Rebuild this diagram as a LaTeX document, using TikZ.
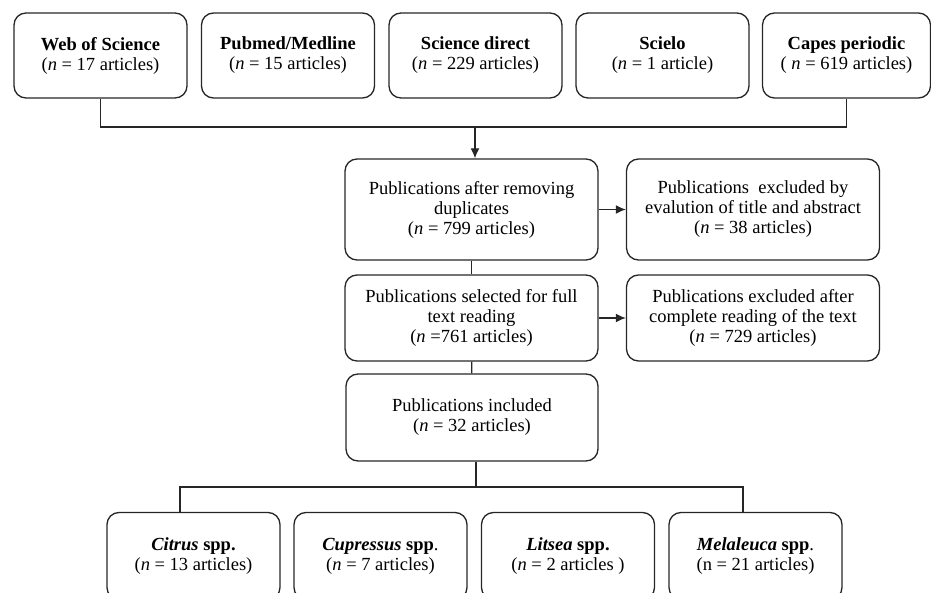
\documentclass[tikz,border=0pt]{standalone}
\usepackage{fontspec}
\setmainfont{Liberation Serif}
\usetikzlibrary{arrows.meta}

\begin{document}
\begin{tikzpicture}[x=1pt,y=-1pt,
    box/.style={draw=black!85, line width=1.3pt, rounded corners=12pt, align=center,
      inner sep=0pt, font=\fontsize{18.5}{20}\selectfont},
    src/.style={box, minimum width=173pt, minimum height=85pt},
    pub/.style={box, minimum width=253pt},
    sp/.style={box, minimum width=173pt, minimum height=87pt},
    link/.style={draw=black!85, line width=1.3pt},
    arr/.style={link, -{Latex[length=10pt,width=9pt]}}]
  \useasboundingbox (0,0) rectangle (931,593);
  \clip (0,0) rectangle (931,593);

  \draw (100.5,55.5) node[src] (wos) {\textbf{Web of Science}\\(\textit{n} = 17 articles)};
  \draw (288,55.5) node[src] (pubmed) {\textbf{Pubmed/Medline}\\(\textit{n} = 15 articles)};
  \draw (475.5,55.5) node[src] (sd) {\textbf{Science direct}\\(\textit{n} = 229 articles)};
  \draw (662.5,55.5) node[src] (scielo) {\textbf{Scielo}\\(\textit{n} = 1 article)};
  \draw (846.5,55.5) node[src, minimum width=168pt] (capes) {\textbf{Capes periodic}\\( \textit{n} = 619 articles)};

  \draw (471.5,209.5) node[pub, minimum height=101pt] (dup) {Publications after removing\\duplicates\\(\textit{n} = 799 articles)};
  \draw (753,209.5) node[pub, minimum height=101pt] (excl1) {Publications~ excluded by\\evalution of title and abstract\\(\textit{n} = 38 articles)};
  \draw (471.5,318) node[pub, minimum height=86pt] (sel) {Publications selected for full\\text reading\\(\textit{n} =761 articles)};
  \draw (753,318) node[pub, minimum height=86pt] (excl2) {Publications excluded after\\complete reading of the text\\(\textit{n} = 729 articles)};
  \draw (472,417.5) node[pub, minimum width=252pt, minimum height=87pt] (incl) {Publications included\\(\textit{n} = 32 articles)};

  \draw (193.5,556) node[sp] (citrus) {\textbf{\textit{Citrus} spp.}\\(\textit{n} = 13 articles)};
  \draw (380.5,556) node[sp] (cupressus) {\textbf{\textit{Cupressus} spp}.\\(\textit{n} = 7 articles)};
  \draw (568,556) node[sp] (litsea) {\textbf{\textit{Litsea} spp.}\\(\textit{n} = 2 articles )};
  \draw (755.5,556) node[sp] (melaleuca) {\textbf{\textit{Melaleuca} spp}.\\(n = 21 articles)};

  \coordinate (merge) at (475,127);
  \coordinate (lsplit) at (180,487);
  \coordinate (rsplit) at (743,487);

  \path[link] (wos) |- (merge) -| (capes);
  \path[arr] (merge) -- (merge |- dup.north);
  \path[arr] (dup) -- (excl1);
  \path[arr] (sel) -- (excl2);
  \path[link] (dup) -- (sel);
  \path[link] (sel) -- (incl);
  \path[link] (incl.south -| 476,0) -- (476,487);
  \path[link] (lsplit |- citrus.north) -- (lsplit) -- (rsplit) -- (rsplit |- melaleuca.north);
\end{tikzpicture}
\end{document}
